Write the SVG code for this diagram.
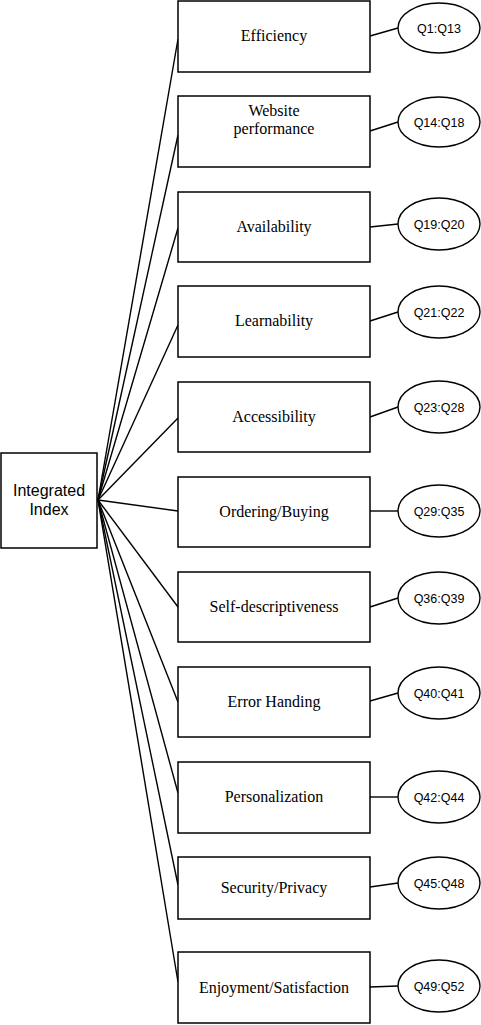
<svg xmlns="http://www.w3.org/2000/svg" width="481" height="1025" viewBox="0 0 481 1025">
<style>
.n rect{fill:#fff;stroke:#000;stroke-width:1.5}
.n ellipse{fill:#fff;stroke:#000;stroke-width:1.4}
.c line{stroke:#000;stroke-width:1.4}
.t{font-family:"Liberation Serif","Times New Roman",serif;font-size:16px;text-anchor:middle;fill:#000}
.q{font-family:"Liberation Sans",Arial,sans-serif;font-size:12.5px;text-anchor:middle;fill:#000}
.i{font-family:"Liberation Sans",Arial,sans-serif;font-size:16px;text-anchor:middle;fill:#000}
</style>
<g class="c" id="connectors">
<line x1="98" y1="500" x2="178" y2="39"/>
<line x1="98" y1="500" x2="178" y2="135"/>
<line x1="98" y1="500" x2="178" y2="228"/>
<line x1="98" y1="500" x2="178" y2="325"/>
<line x1="98" y1="500" x2="178" y2="418"/>
<line x1="98" y1="500" x2="178" y2="511"/>
<line x1="98" y1="500" x2="178" y2="607"/>
<line x1="98" y1="500" x2="178" y2="702"/>
<line x1="98" y1="500" x2="178" y2="793"/>
<line x1="98" y1="500" x2="178" y2="885"/>
<line x1="98" y1="500" x2="178" y2="982"/>
<line x1="370" y1="36" x2="398" y2="28"/>
<line x1="370" y1="131" x2="398" y2="122"/>
<line x1="370" y1="227" x2="398" y2="224"/>
<line x1="370" y1="321" x2="398" y2="312"/>
<line x1="370" y1="417" x2="398" y2="407"/>
<line x1="370" y1="511" x2="398" y2="511"/>
<line x1="370" y1="607" x2="398" y2="598"/>
<line x1="370" y1="701" x2="398" y2="693"/>
<line x1="370" y1="797" x2="398" y2="797"/>
<line x1="370" y1="887" x2="398" y2="883"/>
<line x1="370" y1="987" x2="398" y2="986"/>
</g>
<g class="n">
<g id="index"><rect x="1" y="453" width="96" height="95"/><text class="i" x="49" y="496">Integrated</text><text class="i" x="49" y="515">Index</text></g>
<g id="efficiency"><rect x="178" y="1" width="192" height="71"/><text class="t" x="274" y="41">Efficiency</text></g>
<g id="website"><rect x="178" y="96" width="192" height="71"/><text class="t" x="274" y="116">Website</text><text class="t" x="274" y="134">performance</text></g>
<g id="availability"><rect x="178" y="192" width="192" height="70"/><text class="t" x="274" y="232">Availability</text></g>
<g id="learnability"><rect x="178" y="286" width="192" height="71"/><text class="t" x="274" y="326">Learnability</text></g>
<g id="accessibility"><rect x="178" y="382" width="192" height="70"/><text class="t" x="274" y="422">Accessibility</text></g>
<g id="ordering"><rect x="178" y="477" width="192" height="70"/><text class="t" x="274" y="517">Ordering/Buying</text></g>
<g id="selfdesc"><rect x="178" y="572" width="192" height="70"/><text class="t" x="274" y="612">Self-descriptiveness</text></g>
<g id="error"><rect x="178" y="667" width="192" height="70"/><text class="t" x="274" y="707">Error Handing</text></g>
<g id="personalization"><rect x="178" y="762" width="192" height="71"/><text class="t" x="274" y="802">Personalization</text></g>
<g id="security"><rect x="178" y="857" width="192" height="62"/><text class="t" x="274" y="893">Security/Privacy</text></g>
<g id="enjoyment"><rect x="178" y="952" width="192" height="71"/><text class="t" x="274" y="993">Enjoyment/Satisfaction</text></g>
<g id="q1"><ellipse cx="439" cy="28" rx="41" ry="25"/><text class="q" x="439" y="33">Q1:Q13</text></g>
<g id="q14"><ellipse cx="439" cy="122" rx="41" ry="25"/><text class="q" x="439" y="127">Q14:Q18</text></g>
<g id="q19"><ellipse cx="439" cy="224" rx="41" ry="26"/><text class="q" x="439" y="229">Q19:Q20</text></g>
<g id="q21"><ellipse cx="439" cy="312" rx="41" ry="26"/><text class="q" x="439" y="317">Q21:Q22</text></g>
<g id="q23"><ellipse cx="439" cy="407" rx="41" ry="26"/><text class="q" x="439" y="412">Q23:Q28</text></g>
<g id="q29"><ellipse cx="439" cy="511" rx="41" ry="26"/><text class="q" x="439" y="516">Q29:Q35</text></g>
<g id="q36"><ellipse cx="439" cy="598" rx="41" ry="26"/><text class="q" x="439" y="603">Q36:Q39</text></g>
<g id="q40"><ellipse cx="439" cy="693" rx="41" ry="26"/><text class="q" x="439" y="698">Q40:Q41</text></g>
<g id="q42"><ellipse cx="439" cy="797" rx="41" ry="26"/><text class="q" x="439" y="802">Q42:Q44</text></g>
<g id="q45"><ellipse cx="439" cy="883" rx="41" ry="26"/><text class="q" x="439" y="888">Q45:Q48</text></g>
<g id="q49"><ellipse cx="439" cy="986" rx="41" ry="26"/><text class="q" x="439" y="991">Q49:Q52</text></g>
</g>
</svg>
